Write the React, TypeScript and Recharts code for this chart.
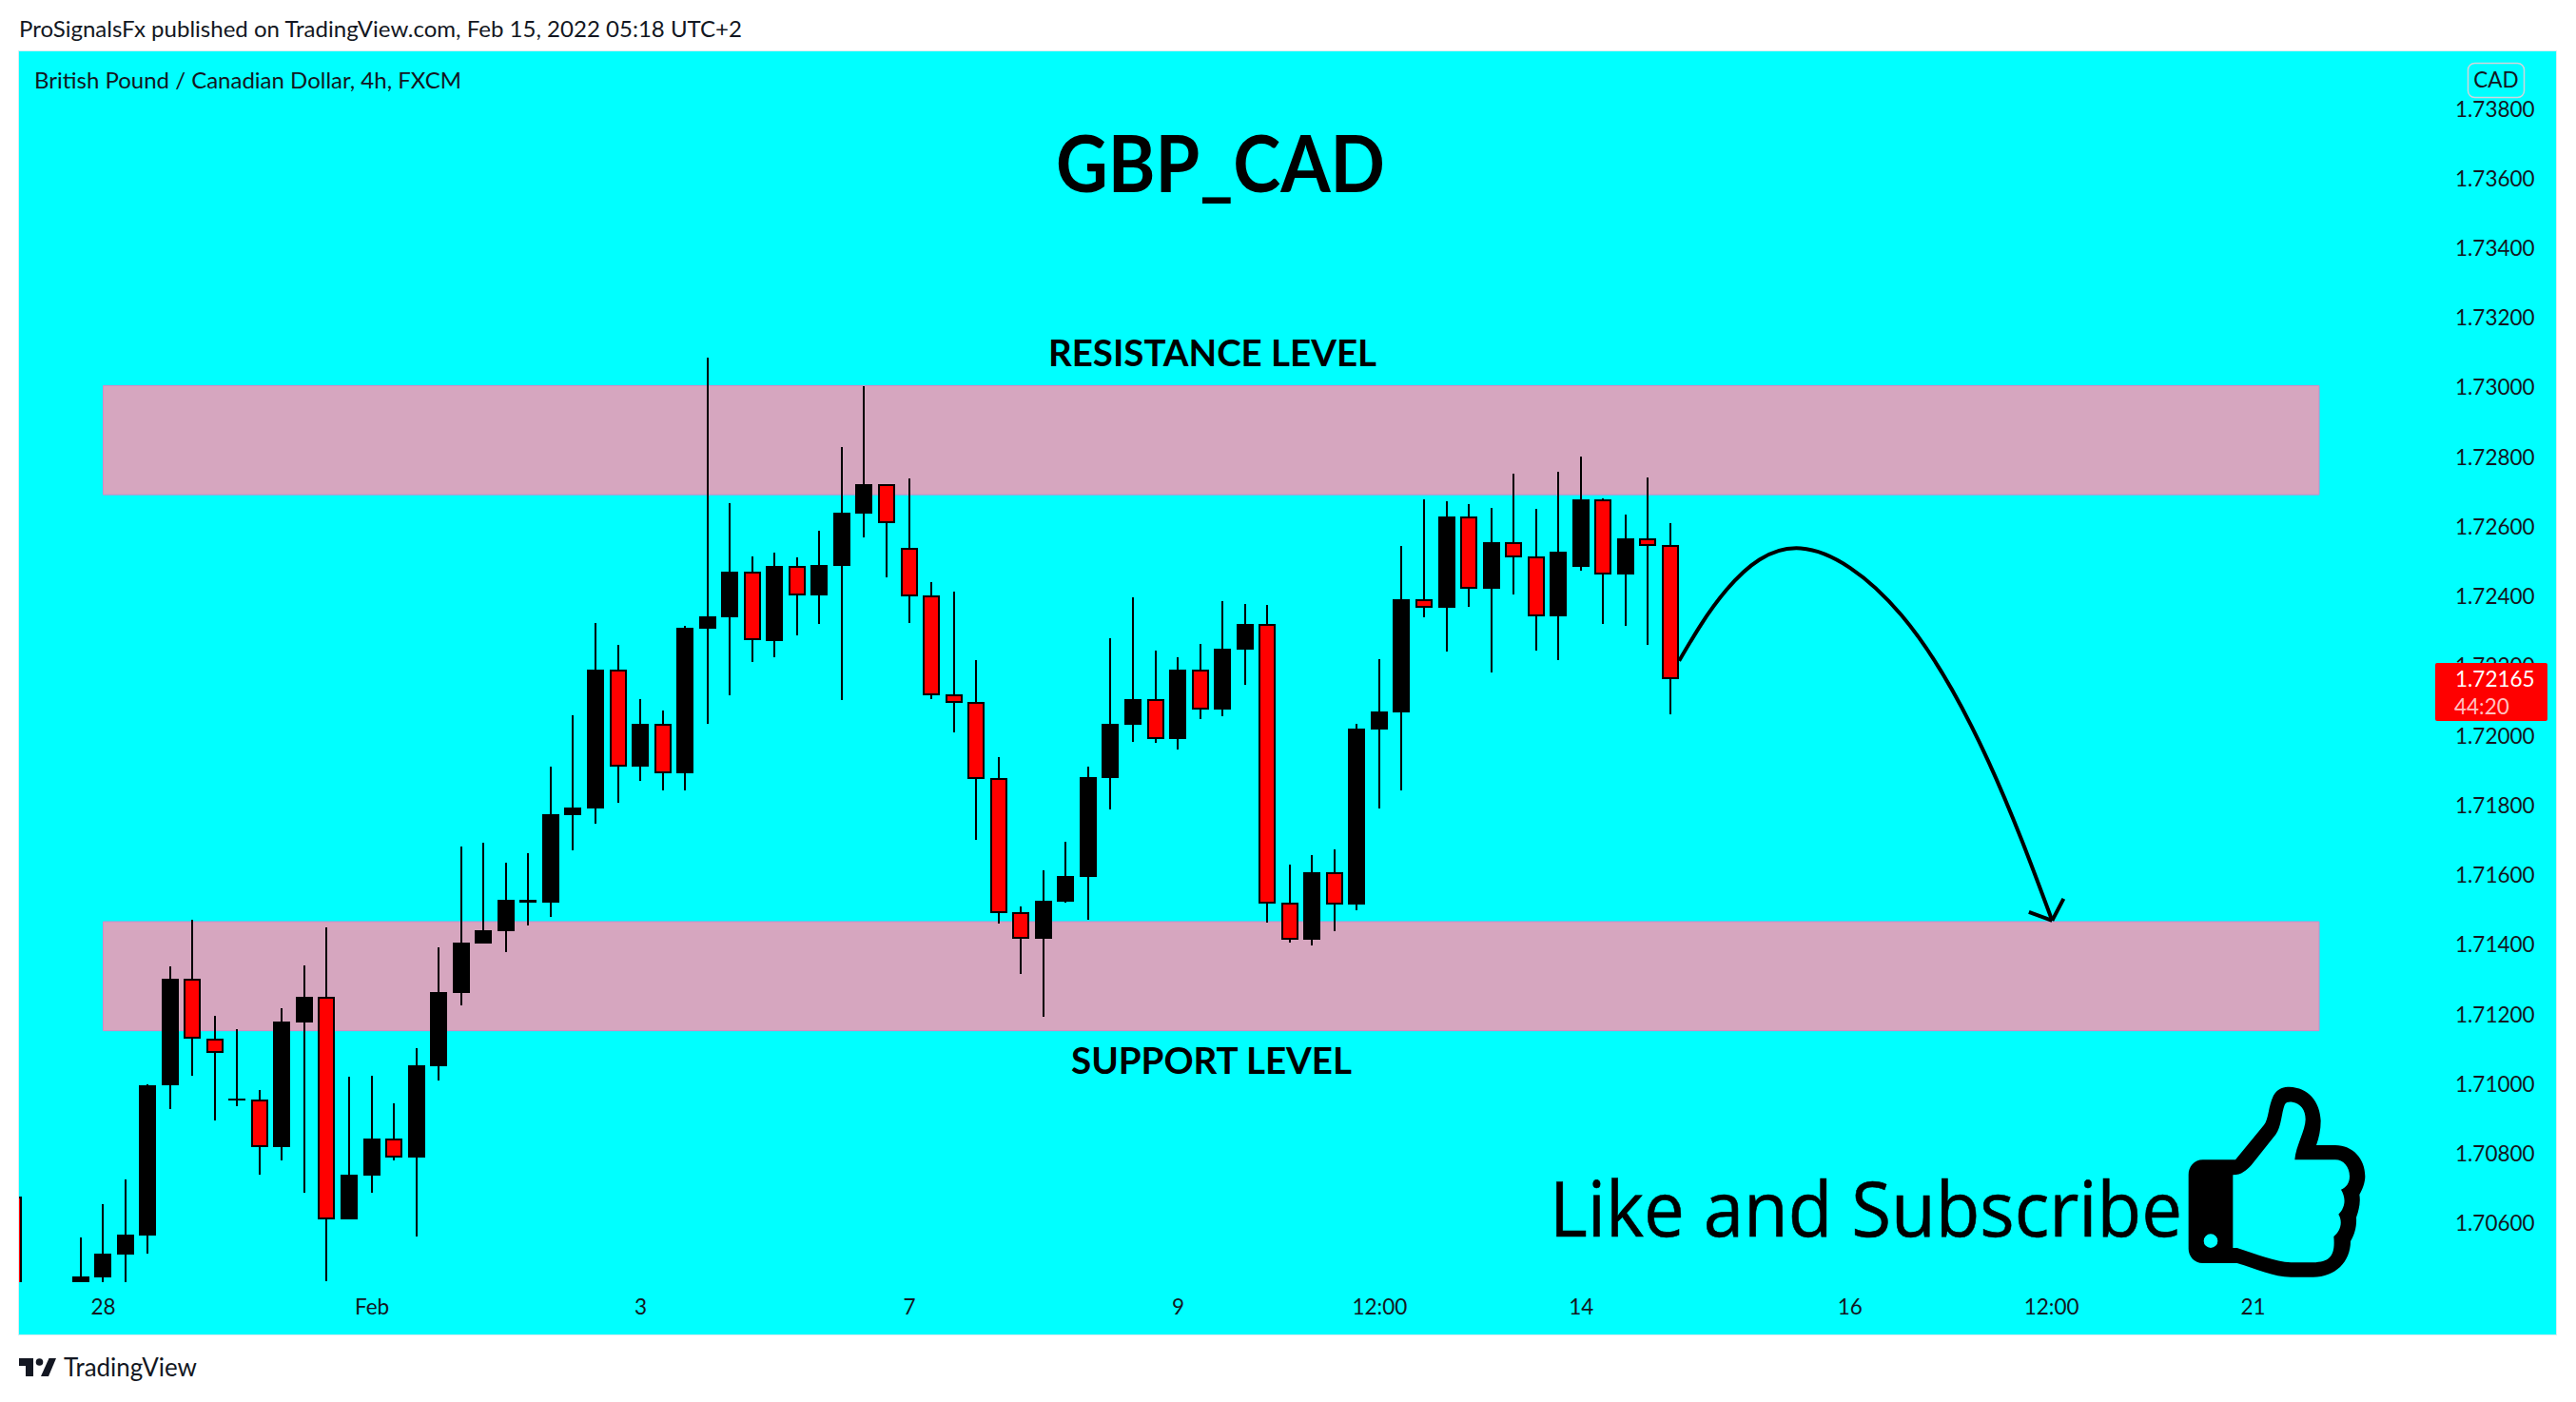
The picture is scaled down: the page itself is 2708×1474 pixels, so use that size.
import React from "react";
import { ComposedChart, Bar, Line, XAxis, YAxis, ReferenceArea } from "recharts";

const slots = [-3, 0, 1, 2, 3, 4, 5, 6, 7, 8, 9, 10, 11, 12, 13, 14, 15, 16, 17, 18, 19, 20, 21, 22, 23, 24, 25, 26, 27, 28, 29, 30, 31, 32, 33, 34, 35, 36, 37, 38, 39, 40, 41, 42, 43, 44, 45, 46, 47, 48, 49, 50, 51, 52, 53, 54, 55, 56, 57, 58, 59, 60, 61, 62, 63, 64, 65, 66, 67, 68, 69, 70, 71];
const opens = [1.7068, 1.70424, 1.70448, 1.70513, 1.70568, 1.70998, 1.71306, 1.71134, 1.70957, 1.70958, 1.70822, 1.7118, 1.71254, 1.70613, 1.70741, 1.70846, 1.70793, 1.71054, 1.71265, 1.71407, 1.71443, 1.71524, 1.71525, 1.71775, 1.71794, 1.72193, 1.71915, 1.72037, 1.71896, 1.7231, 1.72343, 1.72474, 1.72275, 1.7249, 1.72406, 1.72491, 1.72641, 1.72725, 1.72542, 1.72405, 1.72121, 1.721, 1.71882, 1.71497, 1.7142, 1.71527, 1.71598, 1.71882, 1.72035, 1.72108, 1.71994, 1.72193, 1.72078, 1.7225, 1.72324, 1.71524, 1.71418, 1.71611, 1.71519, 1.72021, 1.7207, 1.72395, 1.72371, 1.72633, 1.72425, 1.72559, 1.72518, 1.72346, 1.72488, 1.72682, 1.72466, 1.7257, 1.72551];
const closes = [1.70292, 1.70451, 1.70516, 1.70571, 1.70999, 1.71306, 1.71132, 1.71093, 1.70961, 1.70823, 1.71183, 1.71254, 1.70613, 1.70743, 1.70847, 1.70793, 1.71057, 1.71267, 1.71409, 1.71445, 1.71532, 1.71532, 1.71778, 1.71797, 1.72193, 1.71915, 1.72037, 1.71896, 1.72313, 1.72346, 1.72474, 1.72277, 1.72491, 1.72407, 1.72493, 1.72644, 1.72726, 1.72614, 1.72404, 1.7212, 1.72098, 1.71879, 1.71494, 1.7142, 1.71529, 1.716, 1.71884, 1.72037, 1.72108, 1.71994, 1.72193, 1.72078, 1.72253, 1.72324, 1.71521, 1.71418, 1.71611, 1.71519, 1.72024, 1.72073, 1.72395, 1.72371, 1.72633, 1.72425, 1.72559, 1.72515, 1.72346, 1.72532, 1.72682, 1.72466, 1.7257, 1.72548, 1.72165];
const highs = [1.7068, 1.70563, 1.70658, 1.70728, 1.71002, 1.71341, 1.71475, 1.71199, 1.71161, 1.70986, 1.71221, 1.71344, 1.71453, 1.71024, 1.71027, 1.70948, 1.71106, 1.71396, 1.71685, 1.71696, 1.71639, 1.71666, 1.71915, 1.72062, 1.72327, 1.72264, 1.72108, 1.72076, 1.72319, 1.73089, 1.72671, 1.72518, 1.72529, 1.72515, 1.72592, 1.72832, 1.73007, 1.72726, 1.72742, 1.72444, 1.72417, 1.7222, 1.71942, 1.71513, 1.71617, 1.71699, 1.71915, 1.72283, 1.72401, 1.72248, 1.72229, 1.72267, 1.7239, 1.72381, 1.72379, 1.71633, 1.71661, 1.71677, 1.72037, 1.72223, 1.72548, 1.72682, 1.72676, 1.72668, 1.72657, 1.72756, 1.72655, 1.72761, 1.72805, 1.72685, 1.72638, 1.72745, 1.72614];
const lows = [1.70292, 1.70402, 1.70429, 1.70424, 1.70517, 1.70931, 1.71027, 1.70899, 1.7094, 1.70743, 1.70784, 1.70691, 1.70437, 1.70613, 1.70691, 1.70784, 1.70566, 1.71013, 1.71229, 1.71407, 1.71383, 1.71457, 1.71483, 1.71674, 1.71751, 1.71811, 1.71874, 1.71846, 1.71846, 1.72037, 1.72119, 1.72215, 1.72229, 1.72291, 1.72324, 1.72106, 1.72573, 1.72458, 1.72327, 1.72108, 1.72013, 1.71704, 1.71464, 1.71319, 1.71196, 1.71524, 1.71475, 1.71792, 1.71986, 1.71983, 1.71964, 1.72051, 1.72059, 1.72149, 1.71467, 1.71409, 1.71401, 1.71442, 1.71502, 1.71794, 1.71846, 1.72343, 1.72245, 1.72373, 1.72185, 1.72409, 1.72248, 1.7222, 1.72477, 1.72324, 1.72319, 1.72264, 1.72065];

const priceTicks = [1.738, 1.736, 1.734, 1.732, 1.73, 1.728, 1.726, 1.724, 1.722, 1.72, 1.718, 1.716, 1.714, 1.712, 1.71, 1.708, 1.706];
const timeTickSlots = [1, 13, 25, 37, 49, 58, 67, 79, 88, 97];
const timeTickLabels = ["28", "Feb", "3", "7", "9", "12:00", "14", "16", "12:00", "21"];

const pathSlots = [71.37, 73.49, 76.8, 81.3, 85.17, 88.03];
const pathPrices = [1.72218, 1.72422, 1.72541, 1.72349, 1.71931, 1.71472];
const leftBarbSlots = [86.99, 88.03];
const leftBarbPrices = [1.71497, 1.71472];
const rightBarbSlots = [88.54, 88.03];
const rightBarbPrices = [1.71535, 1.71472];

const candles = slots.map((i, k) => ({ i, open: opens[k], close: closes[k], high: highs[k], low: lows[k] }));
const toPoints = (xs: number[], ys: number[]) => xs.map((i, k) => ({ i, p: ys[k] }));

const UI = "Lato, 'Noto Sans', sans-serif";
const INK = "#131722";

function Candle(props: any) {
  const { x, y, width, height, payload } = props;
  const { open, close, high, low } = payload;
  const perUnit = height / (high - low);
  const cx = Math.round(x + width / 2);
  const top = y + (high - Math.max(open, close)) * perUnit;
  const bottom = y + (high - Math.min(open, close)) * perUnit;
  const down = close < open;
  const bodyH = Math.max(bottom - top, 2);
  return (
    <g shapeRendering="crispEdges">
      <rect x={cx - 1} y={y} width={2} height={height} fill="#000" />
      <rect x={cx - 9} y={top} width={18} height={bodyH} fill="#000" />
      {down && bodyH > 4 ? <rect x={cx - 7} y={top + 2} width={14} height={bodyH - 4} fill="#ff0000" /> : null}
    </g>
  );
}

function Thumb() {
  const d =
    "M62 268 L165 268 L255 158 C270 140 268 100 285 65 C298 42 320 38 335 38 C395 40 432 85 434 145 C434 175 428 200 420 222 L480 222 C535 222 574 265 574 320 C574 340 565 362 556 378 C560 400 555 425 546 450 C548 480 540 505 528 525 C528 590 480 638 410 638 L340 638 C285 638 230 612 170 594 L62 594 C35 594 17 572 17 548 L17 315 C17 290 35 268 62 268 Z " +
    "M157 316 C185 316 200 300 215 285 L292 188 C310 165 310 120 320 95 C325 85 335 85 345 86 C370 90 386 110 386 140 C386 175 355 225 352 268 L480 268 C505 268 525 290 525 320 C525 340 515 355 498 362 C512 385 515 415 490 440 C505 465 495 495 475 510 C480 570 465 590 410 592 L340 592 C290 590 230 565 170 546 L157 546 Z " +
    "M65 524 A22 22 0 1 0 109 524 A22 22 0 1 0 65 524 Z";
  return (
    <g transform="translate(2295,1130) scale(0.33333)">
      <path d={d} fill="#000" fillRule="evenodd" />
    </g>
  );
}

export default function App() {
  return (
    <div style={{ position: "absolute", left: 0, top: 0, width: 2708, height: 1474, background: "#fff", overflow: "hidden" }}>
      <div style={{ position: "absolute", left: 20, top: 54, width: 2667, height: 1349, background: "#00ffff", outline: "1px solid #d8eef2" }}>
        <ComposedChart
          width={2667}
          height={1349}
          data={candles}
          margin={{ top: 0, right: 0, bottom: 0, left: 0 }}
        >
          <XAxis
            type="number"
            dataKey="i"
            domain={[-2.76, 105.05]}
            allowDataOverflow
            ticks={timeTickSlots}
            interval={0}
            height={55}
            axisLine={false}
            tickLine={false}
            tickMargin={12}
            tickFormatter={(v: number) => timeTickLabels[timeTickSlots.indexOf(v)]}
            tick={{ fontSize: 22.5, fill: INK, fontFamily: UI }}
          />
          <YAxis
            type="number"
            orientation="right"
            domain={[1.70434, 1.73968]}
            allowDataOverflow
            ticks={priceTicks}
            interval={0}
            width={129}
            axisLine={false}
            tickLine={false}
            tickSize={0}
            tickMargin={23}
            tickFormatter={(v: number) => v.toFixed(5)}
            tick={{ fontSize: 22.5, fill: INK, fontFamily: UI, dy: -1 }}
          />
          <ReferenceArea x1={1} x2={99.95} y1={1.73008} y2={1.72695} fill="#d6a6bf" fillOpacity={1} stroke="#d48ac6" strokeWidth={1} />
          <ReferenceArea x1={1} x2={99.95} y1={1.71469} y2={1.71156} fill="#d6a6bf" fillOpacity={1} stroke="#d48ac6" strokeWidth={1} />
          <Bar
            dataKey={(d: any) => [d.low, d.high]}
            barSize={18}
            shape={<Candle />}
            isAnimationActive={false}
          />
          <Line data={toPoints(pathSlots, pathPrices)} dataKey="p" type="natural" stroke="#000" strokeWidth={4} dot={false} isAnimationActive={false} />
          <Line data={toPoints(leftBarbSlots, leftBarbPrices)} dataKey="p" type="linear" stroke="#000" strokeWidth={4} dot={false} isAnimationActive={false} />
          <Line data={toPoints(rightBarbSlots, rightBarbPrices)} dataKey="p" type="linear" stroke="#000" strokeWidth={4} dot={false} isAnimationActive={false} />
        </ComposedChart>
      </div>
      <svg width={2708} height={1474} style={{ position: "absolute", left: 0, top: 0, pointerEvents: "none" }}>
        <text x={20} y={39} fontFamily={UI} fontSize={23} fill={INK} textLength={760} lengthAdjust="spacingAndGlyphs">ProSignalsFx published on TradingView.com, Feb 15, 2022 05:18 UTC+2</text>
        <text x={36} y={93} fontFamily={UI} fontSize={23} fill={INK} textLength={449} lengthAdjust="spacingAndGlyphs">British Pound / Canadian Dollar, 4h, FXCM</text>
        <text x={1110} y={202} fontFamily={UI} fontWeight={700} fontSize={83} fill="#000" textLength={346} lengthAdjust="spacingAndGlyphs">GBP_CAD</text>
        <text x={1102} y={385} fontFamily={UI} fontWeight={700} fontSize={39} fill="#000" textLength={345} lengthAdjust="spacingAndGlyphs">RESISTANCE LEVEL</text>
        <text x={1126} y={1129} fontFamily={UI} fontWeight={700} fontSize={39} fill="#000" textLength={295} lengthAdjust="spacingAndGlyphs">SUPPORT LEVEL</text>
        <text x={1629} y={1300} fontFamily="'Open Sans', sans-serif" fontSize={81} fill="#000" stroke="#000" strokeWidth={0.6} textLength={665} lengthAdjust="spacingAndGlyphs">Like and Subscribe</text>
        <Thumb />
        <rect x={2594.5} y={66.5} width={59} height={36} rx={7} fill="none" stroke="#d1d4dc" strokeWidth={1.5} />
        <text x={2624} y={92} textAnchor="middle" fontFamily={UI} fontSize={22.5} fill={INK}>CAD</text>
        <rect x={2560} y={697} width={118} height={61} rx={2} fill="#ff0000" />
        <text x={2581} y={722} fontFamily={UI} fontSize={22.5} fill="#fff">1.72165</text>
        <text x={2580} y={751} fontFamily={UI} fontSize={22.5} fill="#ffc0c0">44:20</text>
        <g fill={INK}>
          <path d="M20 1428 L35 1428 L35 1447 L27 1447 L27 1436 L20 1436 Z" />
          <circle cx={41.5} cy={1432} r={3.8} />
          <path d="M51.5 1428 L59 1428 L51 1447 L43 1447 Z" />
        </g>
        <text x={67} y={1447} fontFamily={UI} fontSize={26} fill={INK} textLength={140} lengthAdjust="spacingAndGlyphs">TradingView</text>
      </svg>
    </div>
  );
}
